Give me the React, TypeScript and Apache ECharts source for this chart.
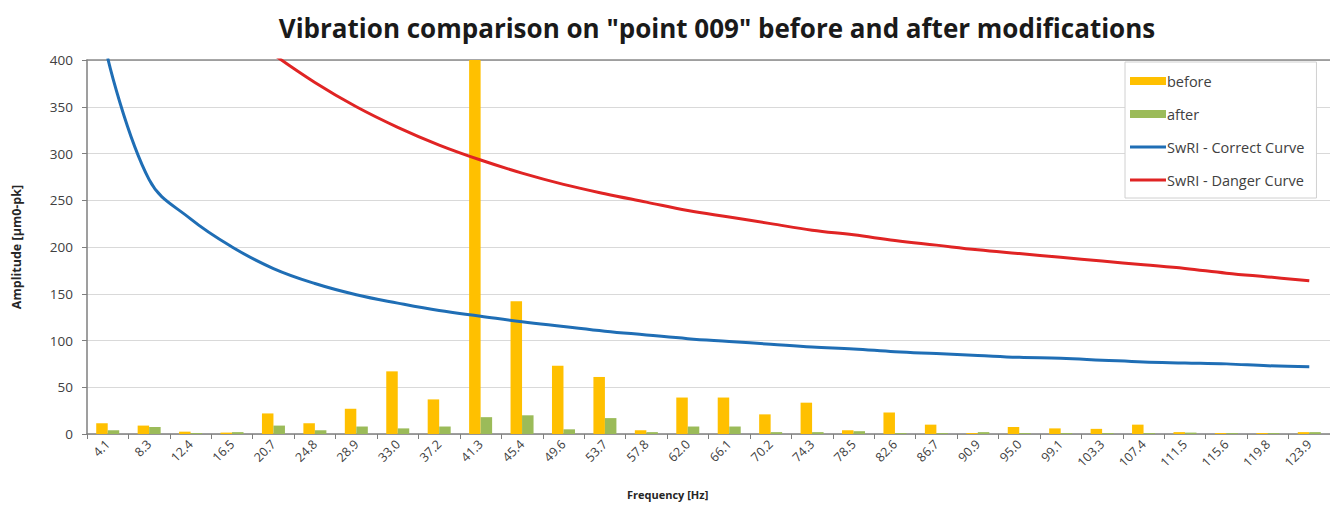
import React, { useEffect, useRef } from "react";
import * as echarts from "echarts";

const categories = [
  "4.1", "8.3", "12.4", "16.5", "20.7", "24.8", "28.9", "33.0", "37.2", "41.3",
  "45.4", "49.6", "53.7", "57.8", "62.0", "66.1", "70.2", "74.3", "78.5", "82.6",
  "86.7", "90.9", "95.0", "99.1", "103.3", "107.4", "111.5", "115.6", "119.8", "123.9",
];

const beforeValues = [
  11.5, 9, 2.5, 1.5, 22, 11.5, 27, 67, 37, 400,
  142, 73, 61, 4, 39, 39, 21, 33.5, 4, 23,
  10, 1, 7.5, 6, 5.5, 10, 2, 1, 1, 2,
];

const afterValues = [
  4, 7.5, 1, 2, 9, 4, 8, 6, 8, 18,
  20, 5, 17, 2, 8, 8, 2, 2, 3, 1,
  1, 2, 1, 1, 1, 1, 1.5, 1, 1, 2,
];

const correctCurve = [
  402, 272, 230, 200, 177, 161, 149, 140, 132, 126,
  120, 115, 110, 106, 102, 99, 96, 93, 91, 88,
  86, 84, 82, 81, 79, 77, 76, 75, 73, 72,
];

const dangerCurve = [
  null, null, null, null, 406, 376, 350, 328, 309, 293,
  279, 267, 257, 248, 239, 232, 225, 218, 213, 207,
  202, 197, 193, 189, 185, 181, 177, 172, 168, 164,
];

const yMin = 0;
const yMax = 400;
const yInterval = 50;

const FONT = "'Open Sans', Lato, sans-serif";

const BAR_ICON = "path://M0,0 L36,0 L36,8 L0,8 Z";
const LINE_ICON = "path://M0,2.6 L36,2.6 L36,5.4 L0,5.4 Z M0,0 L0.01,0 M0,8 L0.01,8";

export default function App() {
  const ref = useRef<HTMLDivElement>(null);

  useEffect(() => {
    if (!ref.current) return;
    const chart = echarts.init(ref.current, undefined, { renderer: "svg" });
    chart.setOption({
      animation: false,
      backgroundColor: "#ffffff",
      textStyle: { fontFamily: FONT },
      title: {
        text: 'Vibration comparison on "point 009" before and after modifications',
        left: 712,
        top: 10,
        textAlign: "center",
        textStyle: { fontFamily: FONT, fontWeight: "bold", fontSize: 26, color: "#1a1a1a" },
      },
      legend: {
        orient: "vertical",
        left: 1125,
        top: 62,
        padding: [11, 12, 10, 5],
        itemGap: 17,
        itemWidth: 36,
        itemHeight: 8,
        backgroundColor: "#ffffff",
        borderColor: "#d0d0d0",
        borderWidth: 1,
        textStyle: {
          fontFamily: FONT,
          fontSize: 14.5,
          lineHeight: 16,
          color: "#404040",
          padding: [0, 0, 0, -4],
        },
        data: [
          { name: "before", icon: BAR_ICON },
          { name: "after", icon: BAR_ICON },
          { name: "SwRI - Correct Curve", icon: LINE_ICON },
          { name: "SwRI - Danger Curve", icon: LINE_ICON },
        ],
      },
      grid: { left: 87, top: 60, width: 1251, height: 374, containLabel: false },
      xAxis: [
        {
          type: "category",
          data: categories,
          boundaryGap: true,
          axisLine: { lineStyle: { color: "#7f7f7f", width: 1.5 } },
          axisTick: { show: true, alignWithLabel: false, length: 5, lineStyle: { color: "#7f7f7f" } },
          axisLabel: {
            rotate: 45,
            interval: 0,
            margin: 8,
            fontFamily: FONT,
            fontSize: 12.5,
            color: "#404040",
          },
          splitLine: { show: false },
        },
        {
          type: "category",
          data: categories,
          position: "top",
          axisLine: { show: true, lineStyle: { color: "#8a8a8a", width: 1.5 } },
          axisTick: { show: false },
          axisLabel: { show: false },
        },
      ],
      yAxis: {
        type: "value",
        min: yMin,
        max: yMax,
        interval: yInterval,
        name: "Amplitude [µm0-pk]",
        nameLocation: "middle",
        nameGap: 64,
        nameTextStyle: { fontFamily: FONT, fontWeight: "bold", fontSize: 12.5, color: "#262626" },
        axisLine: { show: true, lineStyle: { color: "#7f7f7f", width: 1.5 } },
        axisTick: { show: true, inside: false, length: 5, lineStyle: { color: "#7f7f7f" } },
        axisLabel: { fontFamily: FONT, fontSize: 13.5, color: "#404040", margin: 14 },
        splitLine: { show: true, lineStyle: { color: "#d9d9d9", width: 1 } },
      },
      graphic: [
        {
          type: "text",
          left: 627,
          top: 489,
          style: {
            text: "Frequency [Hz]",
            fontFamily: FONT,
            fontWeight: "bold",
            fontSize: 11,
            fill: "#262626",
          },
        },
      ],
      series: [
        {
          name: "before",
          type: "bar",
          data: beforeValues,
          barWidth: 11.5,
          barGap: "0%",
          itemStyle: { color: "#FFC000" },
        },
        {
          name: "after",
          type: "bar",
          data: afterValues,
          barWidth: 11.5,
          barGap: "0%",
          itemStyle: { color: "#9BBB59" },
        },
        {
          name: "SwRI - Correct Curve",
          type: "line",
          data: correctCurve,
          smooth: 0.4,
          showSymbol: false,
          symbol: "none",
          clip: true,
          lineStyle: { color: "#1F6EB5", width: 3 },
          itemStyle: { color: "#1F6EB5" },
        },
        {
          name: "SwRI - Danger Curve",
          type: "line",
          data: dangerCurve,
          smooth: 0.4,
          showSymbol: false,
          symbol: "none",
          clip: true,
          lineStyle: { color: "#E02424", width: 3 },
          itemStyle: { color: "#E02424" },
        },
      ],
    });
    return () => chart.dispose();
  }, []);

  return (
    <div
      ref={ref}
      style={{ position: "absolute", left: 0, top: 0, width: 1330, height: 506 }}
    />
  );
}
